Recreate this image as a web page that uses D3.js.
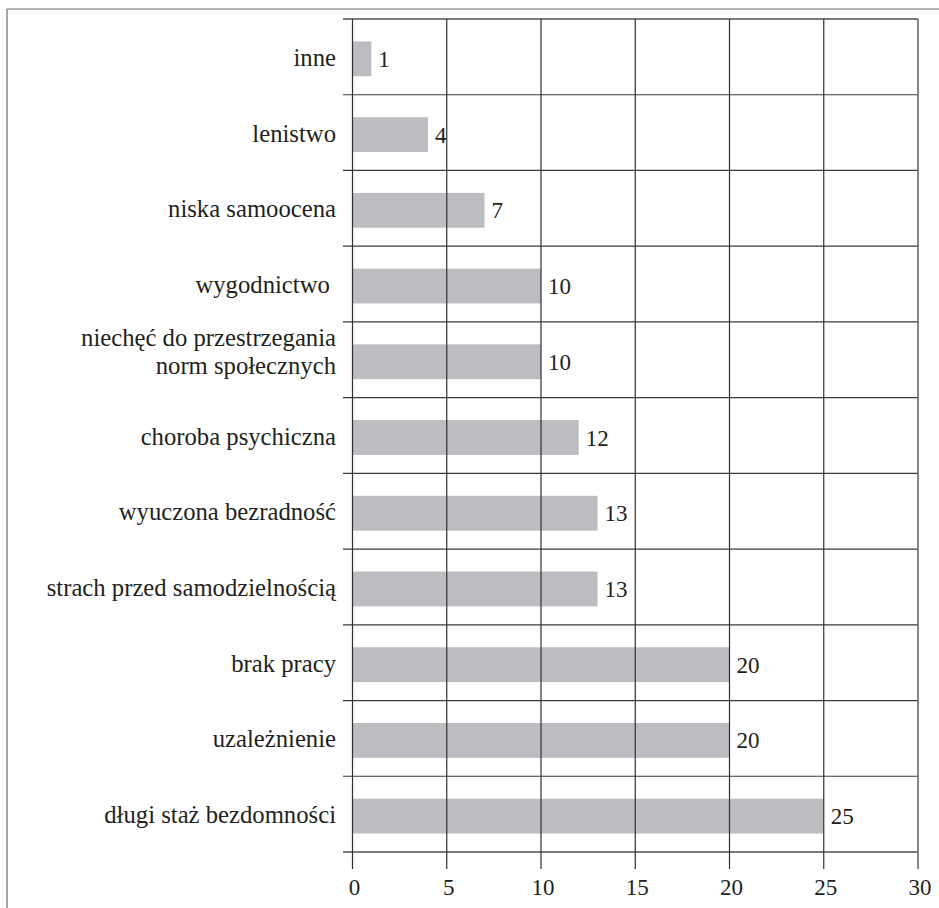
<!DOCTYPE html>
<html><head><meta charset="utf-8">
<script src="https://cdn.jsdelivr.net/npm/d3@7"></script>
<style>
html,body{margin:0;padding:0;background:#fff;}
text{font-family:"Liberation Serif","Times New Roman",serif;fill:#231f20;}
</style></head>
<body>
<svg id="chart" width="939" height="908"></svg>
<script>
const categories = ["inne","lenistwo","niska samoocena","wygodnictwo ","niechęć do przestrzegania\nnorm społecznych","choroba psychiczna","wyuczona bezradność","strach przed samodzielnością","brak pracy","uzależnienie","długi staż bezdomności"];
const values = [1,4,7,10,10,12,13,13,20,20,25];
const xTicks = [0,5,10,15,20,25,30];

(function(){
const svg = d3.select("#chart");
const pL = 352.5, pR = 918, pT = 19, pB = 852;
const x = d3.scaleLinear().domain([0,30]).range([pL,pR]);
const y = d3.scaleBand().domain(categories).range([pT,pB]).paddingInner(0).paddingOuter(0);

// outer frame
svg.append("line").attr("x1",7).attr("x2",939).attr("y1",9).attr("y2",9).attr("stroke","#9a9a9a").attr("stroke-width",1.5);
svg.append("line").attr("x1",7).attr("x2",7).attr("y1",9).attr("y2",908).attr("stroke","#8a8a8a").attr("stroke-width",1.5);

const bh = y.bandwidth()*0.46;
// bars
svg.selectAll("rect.bar").data(categories).join("rect")
  .attr("class","bar")
  .attr("x",x(0))
  .attr("y",d=>y(d)+(y.bandwidth()-bh)/2+2)
  .attr("width",(d,i)=>x(values[i])-x(0))
  .attr("height",bh)
  .attr("fill","#bcbdc1");

// horizontal gridlines
const hPos = categories.map(c=>y(c)).concat([pB]);
svg.selectAll("line.h").data(hPos).join("line")
  .attr("class","h")
  .attr("x1",343).attr("x2",pR)
  .attr("y1",d=>d).attr("y2",d=>d)
  .attr("stroke",(d,i)=> (i===0||i===hPos.length-1)?"#7a7a7a":"#3a3a3a")
  .attr("stroke-width",(d,i)=> (i===0||i===hPos.length-1)?1.8:1.2);

// vertical gridlines
svg.selectAll("line.v").data(xTicks).join("line")
  .attr("class","v")
  .attr("x1",d=>x(d)).attr("x2",d=>x(d))
  .attr("y1",pT).attr("y2",869)
  .attr("stroke",(d,i)=> i===xTicks.length-1?"#6a6a6a":"#2f2f2f")
  .attr("stroke-width",(d,i)=> i===xTicks.length-1?1.6:1.2);

// tick labels
svg.selectAll("text.tick").data(xTicks).join("text")
  .attr("class","tick")
  .attr("x",d=>x(d)+2).attr("y",895)
  .attr("text-anchor","middle")
  .attr("font-size",23)
  .text(d=>d);

// category labels
const lab = svg.selectAll("text.cat").data(categories).join("text")
  .attr("class","cat")
  .attr("text-anchor","end")
  .attr("font-size",24.7)
  .style("white-space","pre")
  .attr("y",d=>y(d)+y.bandwidth()/2);
lab.each(function(d){
  const lines = d.split("\n");
  const t = d3.select(this);
  const lh = 28;
  const start = lines.length > 1 ? -14 : 9;
  lines.forEach((l,k)=>{
    t.append("tspan").attr("x",336).attr("dy", k===0?start:lh).text(l);
  });
});

// value labels
svg.selectAll("text.val").data(categories).join("text")
  .attr("class","val")
  .attr("x",(d,i)=>x(values[i])+7)
  .attr("y",d=>y(d)+y.bandwidth()/2+10)
  .attr("font-size",23)
  .text((d,i)=>values[i]);
})();
</script>
</body></html>
